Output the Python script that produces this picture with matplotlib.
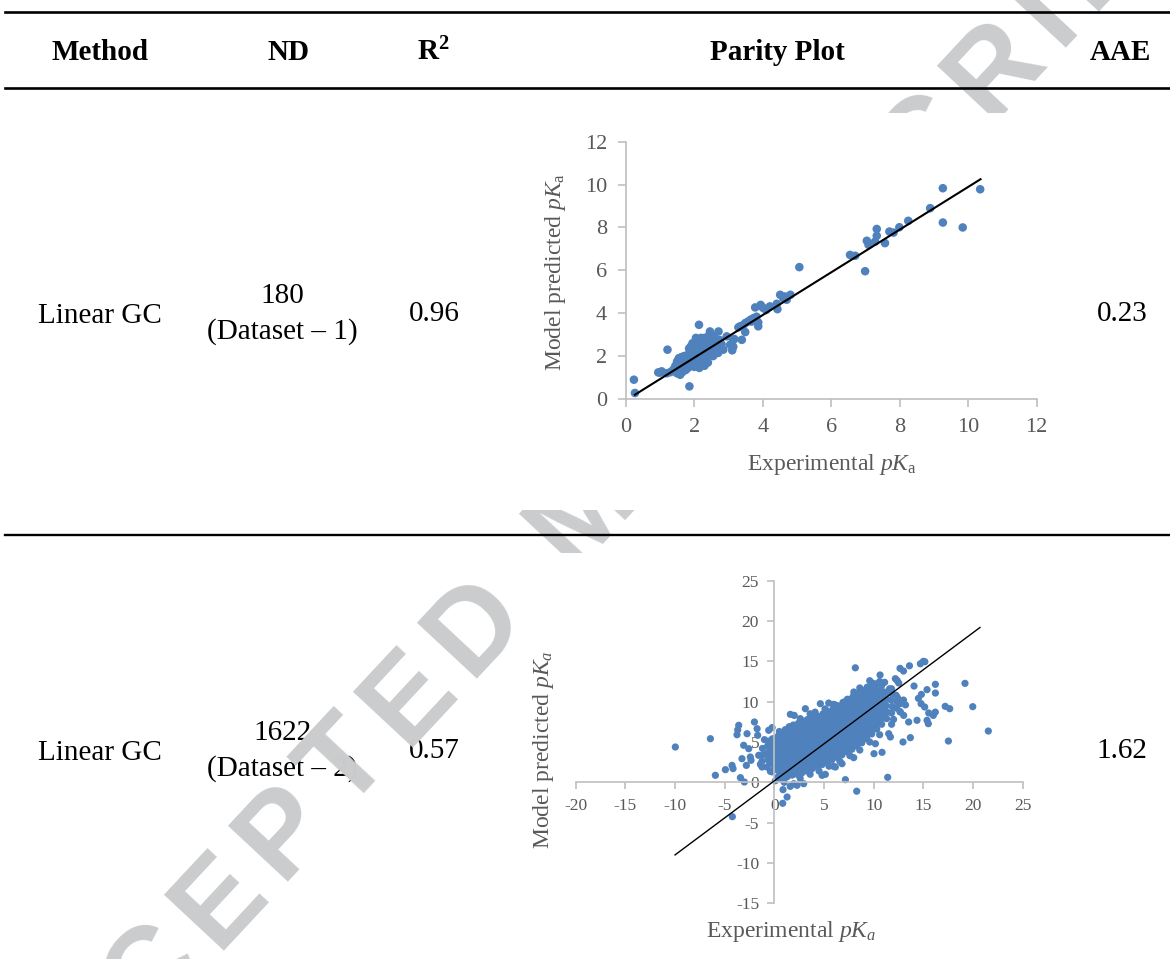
import numpy as np
import matplotlib
matplotlib.use("Agg")
import matplotlib.pyplot as plt
from matplotlib.patches import Rectangle
from matplotlib.lines import Line2D

plt.rcParams['font.family'] = ['Liberation Serif', 'DejaVu Serif']
plt.rcParams['mathtext.fontset'] = 'custom'
plt.rcParams['mathtext.rm'] = 'Liberation Serif'
plt.rcParams['mathtext.it'] = 'Liberation Serif:italic'
plt.rcParams['mathtext.bf'] = 'Liberation Serif:bold'
plt.rcParams['axes.unicode_minus'] = False

# ---- table contents ----
headers = ['Method', 'ND', r'$\mathbf{R^2}$', 'Parity Plot', 'AAE']
methods = ['Linear GC', 'Linear GC']
nd = ['180', '1622']
datasets = ['(Dataset \u2013 1)', '(Dataset \u2013 2)']
r2 = ['0.96', '0.57']
aae = ['0.23', '1.62']
watermark = 'ACCEPTED MANUSCRIPT'

# ---- parity plot 1 (dataset 1), (experimental, predicted) ----
pts1 = [
    (0.24, 0.90), (0.27, 0.28), (0.95, 1.24), (1.05, 1.29), (1.22, 2.30), (1.39, 1.37),
    (1.49, 1.29), (1.59, 1.13), (1.86, 0.59), (2.14, 3.46), (2.46, 3.15), (2.71, 3.15),
    (2.95, 2.92), (3.05, 2.53), (3.11, 2.27), (3.17, 2.80), (3.39, 2.76), (3.49, 3.12),
    (3.34, 3.39), (3.44, 3.46), (3.58, 3.62), (3.73, 3.77), (3.78, 4.27), (3.94, 4.39),
    (4.02, 4.24), (3.87, 3.57), (3.87, 3.39), (4.21, 4.32), (4.41, 4.44), (4.43, 4.19),
    (4.51, 4.86), (4.65, 4.78), (4.81, 4.86), (4.70, 4.63), (5.07, 6.15), (6.55, 6.72),
    (6.70, 6.68), (6.99, 5.96), (7.04, 7.38), (7.09, 7.19), (7.33, 7.93), (7.33, 7.61),
    (7.28, 7.34), (7.57, 7.27), (7.70, 7.81), (7.82, 7.76), (7.99, 8.01), (8.25, 8.31),
    (8.89, 8.90), (9.26, 9.83), (9.26, 8.23), (9.84, 8.00), (10.35, 9.78),
    (1.00, 1.23), (3.14, 2.75), (3.14, 2.44), (3.29, 3.34), (3.68, 3.61), (3.82, 3.84),
    (3.97, 4.31), (3.65, 3.70), (3.50, 3.55), (4.10, 4.15), (4.60, 4.70),
    (1.45, 1.55), (1.50, 1.75), (1.52, 1.40), (1.55, 1.90), (1.58, 1.65), (1.60, 1.50),
    (1.62, 1.95), (1.65, 1.80), (1.68, 1.60), (1.70, 2.00), (1.72, 1.75), (1.75, 1.90),
    (1.78, 1.55), (1.80, 2.05), (1.82, 1.45), (1.85, 1.70), (1.85, 2.35), (1.88, 1.90),
    (1.90, 2.20), (1.92, 1.60), (1.95, 2.40), (1.95, 1.80), (1.98, 2.10), (2.00, 2.50),
    (2.00, 1.50), (2.02, 2.30), (2.05, 1.95), (2.05, 2.60), (2.08, 2.15), (2.10, 1.70),
    (2.10, 2.45), (2.12, 2.00), (2.15, 2.65), (2.15, 1.45), (2.18, 2.30), (2.20, 1.85),
    (2.20, 2.55), (2.22, 2.10), (2.25, 2.70), (2.25, 1.60), (2.28, 2.40), (2.30, 2.00),
    (2.30, 2.85), (2.32, 2.20), (2.35, 1.75), (2.35, 2.55), (2.38, 2.30), (2.40, 2.90),
    (2.40, 2.05), (2.42, 2.65), (2.45, 2.40), (2.48, 2.20), (2.50, 2.75), (2.52, 2.50),
    (2.55, 2.30), (2.58, 2.60), (2.60, 2.85), (2.62, 2.40), (2.65, 2.20), (2.68, 2.70),
    (2.70, 2.50), (2.72, 2.25), (2.75, 2.75), (2.75, 2.40), (2.10, 2.75), (2.00, 2.20),
    (1.90, 2.45), (2.15, 2.40), (2.25, 2.25), (2.35, 2.45), (2.45, 2.60), (2.20, 1.65),
    (2.30, 1.55), (2.40, 1.70), (1.75, 1.35), (1.65, 1.25), (1.50, 1.20), (1.40, 1.30),
    (1.30, 1.25), (1.20, 1.20), (2.60, 2.10), (2.55, 2.00), (2.05, 2.85), (1.95, 2.60),
    (2.20, 2.85), (2.45, 3.00), (2.55, 2.95), (2.80, 2.55), (2.85, 2.30), (2.70, 2.15),
]
fit1_x = [0.27, 10.36]
fit1_y = [0.20, 10.25]

# ---- parity plot 2 (dataset 2): dense core ----
core2 = [
    (-1.25, 2.6), (-1.15, 3.4), (-1.2, 4.2),
    (-0.75, 1.9), (-0.65, 2.8), (-0.72, 3.6), (-0.68, 4.5), (-0.6, 5.1),
    (-0.25, 1.3), (-0.15, 2.2), (-0.22, 3.0), (-0.18, 3.8), (-0.12, 4.6), (-0.2, 5.4),
    (0.3, 0.6), (0.35, 1.5), (0.25, 2.4), (0.32, 3.2), (0.28, 4.0), (0.36, 4.9), (0.3, 5.6),
    (0.8, 0.3), (0.85, 1.1), (0.75, 1.9), (0.82, 2.8), (0.78, 3.6), (0.86, 4.4), (0.8, 5.2), (0.84, 6.0),
    (1.3, 0.7), (1.35, 1.5), (1.25, 2.3), (1.32, 3.1), (1.28, 3.9), (1.36, 4.7), (1.3, 5.5), (1.27, 6.3),
    (1.8, 0.9), (1.85, 1.7), (1.75, 2.5), (1.82, 3.3), (1.78, 4.1), (1.86, 4.9), (1.8, 5.7), (1.84, 6.5), (1.9, 7.1),
    (2.3, 1.0), (2.35, 1.8), (2.25, 2.6), (2.32, 3.4), (2.28, 4.2), (2.36, 5.0), (2.3, 5.8), (2.27, 6.6), (2.4, 7.3),
    (2.8, 1.2), (2.85, 2.0), (2.75, 2.8), (2.82, 3.6), (2.78, 4.4), (2.86, 5.2), (2.8, 6.0), (2.84, 6.8), (2.9, 7.6),
    (3.3, 1.4), (3.35, 2.2), (3.25, 3.0), (3.32, 3.8), (3.28, 4.6), (3.36, 5.4), (3.3, 6.2), (3.27, 7.0), (3.35, 7.8),
    (3.8, 1.7), (3.85, 2.5), (3.75, 3.3), (3.82, 4.1), (3.78, 4.9), (3.86, 5.7), (3.8, 6.5), (3.84, 7.3), (3.9, 8.1),
    (4.3, 1.9), (4.35, 2.7), (4.25, 3.5), (4.32, 4.3), (4.28, 5.1), (4.36, 5.9), (4.3, 6.7), (4.27, 7.5), (4.35, 8.2),
    (4.8, 2.2), (4.85, 3.0), (4.75, 3.8), (4.82, 4.6), (4.78, 5.4), (4.86, 6.2), (4.8, 7.0), (4.84, 7.8), (4.9, 8.5),
    (5.3, 2.5), (5.35, 3.3), (5.25, 4.1), (5.32, 4.9), (5.28, 5.7), (5.36, 6.5), (5.3, 7.3), (5.27, 8.1), (5.35, 8.8),
    (5.8, 2.8), (5.85, 3.6), (5.75, 4.4), (5.82, 5.2), (5.78, 6.0), (5.86, 6.8), (5.8, 7.6), (5.84, 8.4), (5.9, 9.1),
    (6.3, 3.1), (6.35, 3.9), (6.25, 4.7), (6.32, 5.5), (6.28, 6.3), (6.36, 7.1), (6.3, 7.9), (6.27, 8.7), (6.35, 9.5),
    (6.8, 3.4), (6.85, 4.2), (6.75, 5.0), (6.82, 5.8), (6.78, 6.6), (6.86, 7.4), (6.8, 8.2), (6.84, 9.0), (6.9, 9.9),
    (7.3, 3.8), (7.35, 4.6), (7.25, 5.4), (7.32, 6.2), (7.28, 7.0), (7.36, 7.8), (7.3, 8.6), (7.27, 9.4), (7.35, 10.3),
    (7.8, 4.1), (7.85, 4.9), (7.75, 5.7), (7.82, 6.5), (7.78, 7.3), (7.86, 8.1), (7.8, 8.9), (7.84, 9.7), (7.9, 10.6),
    (8.3, 4.5), (8.35, 5.3), (8.25, 6.1), (8.32, 6.9), (8.28, 7.7), (8.36, 8.5), (8.3, 9.3), (8.27, 10.1), (8.35, 11.0),
    (8.8, 4.9), (8.85, 5.7), (8.75, 6.5), (8.82, 7.3), (8.78, 8.1), (8.86, 8.9), (8.8, 9.7), (8.84, 10.5), (8.9, 11.4),
    (9.3, 5.4), (9.35, 6.2), (9.25, 7.0), (9.32, 7.8), (9.28, 8.6), (9.36, 9.4), (9.3, 10.2), (9.27, 11.0), (9.35, 11.8),
    (9.8, 6.0), (9.85, 6.8), (9.75, 7.6), (9.82, 8.4), (9.78, 9.2), (9.86, 10.0), (9.8, 10.8), (9.84, 11.6), (9.9, 12.3),
    (10.3, 6.6), (10.35, 7.4), (10.25, 8.2), (10.32, 9.0), (10.28, 9.8), (10.36, 10.6), (10.3, 11.4), (10.27, 12.2),
    (10.8, 7.2), (10.85, 8.0), (10.75, 8.8), (10.82, 9.6), (10.78, 10.4), (10.86, 11.2), (10.8, 12.0),
    (11.3, 7.9), (11.35, 8.7), (11.25, 9.5), (11.32, 10.3), (11.28, 11.1),
    (11.8, 8.6), (11.85, 9.4), (11.75, 10.2), (11.82, 11.0),
    (12.3, 9.2), (12.35, 10.0), (12.25, 10.8),
    (0.1, 0.2), (1.0, 0.0), (1.6, -0.5), (2.6, 0.5), (3.6, 1.0), (4.5, 1.4), (5.5, 2.0),
    (6.6, 2.6), (7.6, 3.3), (8.6, 4.0), (9.6, 5.0), (10.6, 5.9), (0.5, 6.3), (1.5, 6.9),
    (2.6, 7.9), (3.6, 8.5), (4.1, 8.7), (5.1, 9.1), (6.1, 9.6), (7.1, 10.0), (8.0, 11.2),
    (8.6, 11.7), (9.6, 12.6), (10.6, 12.5), (11.1, 12.4), (11.6, 11.6), (12.0, 7.8), (11.8, 7.2),
]
# more points inside the dense band, listed by experimental value
core2_fill = {
    -0.45: [2.3, 3.2, 4.0, 4.8],
    0.05: [1.7, 2.6, 3.4, 4.2, 5.0],
    0.55: [1.0, 1.9, 2.7, 3.5, 4.4, 5.2],
    1.05: [0.7, 1.5, 2.4, 3.2, 4.0, 4.8, 5.6],
    1.55: [1.1, 1.9, 2.7, 3.5, 4.3, 5.1, 5.9, 6.5],
    2.05: [1.3, 2.1, 2.9, 3.7, 4.5, 5.3, 6.1, 6.8],
    2.55: [1.5, 2.3, 3.1, 3.9, 4.7, 5.5, 6.3, 7.1],
    3.05: [1.7, 2.5, 3.3, 4.1, 4.9, 5.7, 6.5, 7.3],
    3.55: [1.9, 2.7, 3.5, 4.3, 5.1, 5.9, 6.7, 7.5],
    4.05: [2.2, 3.0, 3.8, 4.6, 5.4, 6.2, 7.0, 7.8],
    4.55: [2.5, 3.3, 4.1, 4.9, 5.7, 6.5, 7.3, 8.1],
    5.05: [2.7, 3.5, 4.3, 5.1, 5.9, 6.7, 7.5, 8.3],
    5.55: [3.0, 3.8, 4.6, 5.4, 6.2, 7.0, 7.8, 8.6],
    6.05: [3.3, 4.1, 4.9, 5.7, 6.5, 7.3, 8.1, 8.9],
    6.55: [3.6, 4.4, 5.2, 6.0, 6.8, 7.6, 8.4, 9.2],
    7.05: [4.0, 4.8, 5.6, 6.4, 7.2, 8.0, 8.8, 9.6],
    7.55: [4.3, 5.1, 5.9, 6.7, 7.5, 8.3, 9.1, 9.9],
    8.05: [4.7, 5.5, 6.3, 7.1, 7.9, 8.7, 9.5, 10.3],
    8.55: [5.1, 5.9, 6.7, 7.5, 8.3, 9.1, 9.9, 10.7],
    9.05: [5.6, 6.4, 7.2, 8.0, 8.8, 9.6, 10.4, 11.2],
    9.55: [6.1, 6.9, 7.7, 8.5, 9.3, 10.1, 10.9, 11.7],
    10.05: [6.7, 7.5, 8.3, 9.1, 9.9, 10.7, 11.5],
    10.55: [7.3, 8.1, 8.9, 9.7, 10.5, 11.3],
    11.05: [8.0, 8.8, 9.6, 10.4, 11.2],
}
# ---- parity plot 2: scattered points outside the core ----
out2 = [
    (-9.97, 4.38), (-6.44, 5.41), (-5.94, 0.87), (-4.93, 1.57), (-4.26, 2.10), (-4.16, 1.70),
    (-4.23, -4.26), (-3.59, 7.07), (-3.69, 6.50), (-3.76, 5.90), (-3.42, 0.58), (-3.02, 0.04),
    (-3.26, 2.93), (-2.82, 2.10), (-3.09, 4.59), (-2.58, 4.17), (-2.75, 6.03), (-2.42, 3.14),
    (-2.35, 2.73), (-2.01, 7.48), (-1.74, 6.65), (-1.68, 5.83), (-1.58, 3.35), (-1.41, 2.23),
    (-1.24, 1.90), (-1.00, 5.29), (-0.40, 1.36), (-0.57, 6.45), (-0.23, 6.78), (0.44, 5.83),
    (0.77, 5.20), (1.10, 6.53), (1.61, 8.43), (2.00, 8.30), (3.12, 9.13), (4.63, 9.75),
    (5.47, 9.83), (5.97, 9.67), (0.87, -0.91), (1.28, -1.82), (0.84, -2.60), (1.95, -0.17),
    (2.28, -0.37), (2.95, -0.17), (4.80, 0.87), (5.13, 0.99), (5.97, 1.98), (6.14, 1.90),
    (6.81, 2.31), (7.15, 0.33), (7.99, 3.06), (8.29, -1.10), (8.15, 14.20), (10.64, 13.31),
    (12.65, 14.13), (13.00, 13.80), (13.60, 14.45), (14.70, 14.70), (15.00, 15.00), (15.15, 14.95),
    (16.21, 12.15), (16.21, 11.07), (15.37, 11.49), (14.06, 11.94), (14.50, 10.41), (14.77, 9.75),
    (15.13, 9.34), (15.54, 8.60), (16.00, 8.30), (16.20, 8.70), (15.37, 7.69), (15.50, 7.27),
    (14.36, 7.69), (17.20, 9.42), (17.65, 9.13), (19.19, 12.27), (19.97, 9.38), (21.54, 6.36),
    (17.52, 5.12), (13.69, 5.54), (12.95, 5.00), (13.52, 7.48), (11.51, 6.03), (11.68, 5.62),
    (10.17, 4.79), (10.03, 3.55), (10.84, 3.72), (11.41, 0.62), (12.68, 9.75), (12.68, 8.72),
    (13.02, 8.30), (12.35, 12.64), (12.52, 12.31), (12.18, 12.85), (12.65, 8.76), (13.20, 9.60),
    (13.00, 10.20), (12.40, 10.50), (11.80, 11.60), (14.80, 10.90),
]
fit2_x = [-10.0, 20.7]
fit2_y = [-9.0, 19.2]

exp1, pred1 = zip(*pts1)
fill2 = [(x, y) for x, ys in core2_fill.items() for y in ys]
exp2, pred2 = zip(*(core2 + fill2 + out2))

W, H = 1170, 959
BLUE = '#4f81bd'
AXGREY = '#bfbfbf'
LABGREY = '#595959'
WMGREY = '#cbcccd'
FS = 21


def fx(px):
    return px / W


def fy(py):
    return 1 - py / H


fig = plt.figure(figsize=(W / 100, H / 100), dpi=100)

# table text
hx = [100, 289, 433, 777, 1120]
for x, h in zip(hx, headers):
    fig.text(fx(x), fy(52), h, ha='center', va='center', fontsize=FS,
             fontweight='bold', zorder=1)

row_y = [316, 753]
for i, ry in enumerate(row_y):
    fig.text(fx(100), fy(ry), methods[i], ha='center', va='center', fontsize=FS, zorder=1)
    fig.text(fx(282), fy(ry - 20), nd[i], ha='center', va='center', fontsize=FS, zorder=1)
    fig.text(fx(282), fy(ry + 16), datasets[i], ha='center', va='center', fontsize=FS, zorder=1)
    fig.text(fx(434), fy(ry - 2), r2[i], ha='center', va='center', fontsize=FS, zorder=1)
    fig.text(fx(1122), fy(ry - 2), aae[i], ha='center', va='center', fontsize=FS, zorder=1)

# watermark, letter by letter along a 47 degree line (spaced out like the original)
wm_size = 85
wm_em = wm_size * 100 / 72
wm_track = 15.8
wm_adv = {'A': .722, 'C': .722, 'E': .667, 'P': .667, 'T': .611, 'D': .722, ' ': .278,
          'M': .833, 'N': .722, 'U': .722, 'S': .667, 'R': .722, 'I': .278}
theta = np.radians(47)
centres = []
pos = 0.0
for ch in watermark:
    w = wm_adv[ch] * wm_em
    centres.append(pos + w / 2)
    pos += w + wm_track
ux, uy = np.cos(theta), -np.sin(theta)
bx, by = 0.358 * wm_em * np.sin(theta), 0.358 * wm_em * np.cos(theta)
for ch, c in zip(watermark, centres):
    if ch == ' ':
        continue
    d = c - centres[2]
    cx, cy = 145 + d * ux, 965 + d * uy
    fig.text(fx(cx + bx), fy(cy + by), ch, ha='center', va='baseline', rotation=47,
             rotation_mode='anchor', fontsize=wm_size, fontweight='bold',
             family='Liberation Sans', color=WMGREY, zorder=2)

# white backgrounds of the two embedded plots
for x0, y0, x1, y1 in [(520, 113, 1060, 510), (515, 553, 1060, 959)]:
    fig.add_artist(Rectangle((fx(x0), fy(y1)), fx(x1) - fx(x0), fy(y0) - fy(y1),
                             transform=fig.transFigure, facecolor='white',
                             edgecolor='none', zorder=3))

# table rules
for y, lw in [(12, 1.9), (88, 1.9), (535, 1.7)]:
    fig.add_artist(Line2D([fx(5), 1], [fy(y), fy(y)], transform=fig.transFigure,
                          color='black', lw=lw, zorder=5))


def style(ax, size):
    for s in ['top', 'right']:
        ax.spines[s].set_visible(False)
    for s in ['left', 'bottom']:
        ax.spines[s].set_color(AXGREY)
        ax.spines[s].set_linewidth(1.2)
    ax.tick_params(direction='out', length=5.5, width=1.2, color=AXGREY,
                   labelcolor=LABGREY, labelsize=size, pad=8)
    ax.patch.set_alpha(0)


# plot 1
ax1 = fig.add_axes([fx(625.7), fy(399), fx(1036.7) - fx(625.7), fy(141.7) - fy(399)], zorder=4)
ax1.scatter(exp1, pred1, s=38, color=BLUE, edgecolors='none', zorder=2)
ax1.plot(fit1_x, fit1_y, color='black', lw=1.5, zorder=3)
ax1.set_xlim(0, 12)
ax1.set_ylim(0, 12)
ax1.set_xticks(range(0, 13, 2))
ax1.set_yticks(range(0, 13, 2))
style(ax1, 16)
fig.text(fx(832), fy(465), r'Experimental $\mathit{pK}_{\mathrm{a}}$', ha='center', va='center',
         fontsize=17, color=LABGREY, zorder=6)
fig.text(fx(555), fy(272), r'Model predicted $\mathit{pK}_{\mathrm{a}}$', ha='center', va='center',
         rotation=90, fontsize=17, color=LABGREY, zorder=6)

# plot 2
ax2 = fig.add_axes([fx(575.7), fy(903.3), fx(1022.7) - fx(575.7), fy(580.7) - fy(903.3)], zorder=4)
ax2.scatter(exp2, pred2, s=27, color=BLUE, edgecolors='none', zorder=2)
ax2.plot(fit2_x, fit2_y, color='black', lw=1.0, zorder=3)
ax2.set_xlim(-20, 25)
ax2.set_ylim(-15, 25)
ax2.set_xticks(range(-20, 26, 5))
ax2.set_yticks(range(-15, 26, 5))
ax2.spines['left'].set_position('zero')
ax2.spines['bottom'].set_position('zero')
style(ax2, 12.5)
ax2.tick_params(length=5, pad=6)
fig.text(fx(791), fy(932), r'Experimental $\mathit{pK_a}$', ha='center', va='center',
         fontsize=17, color=LABGREY, zorder=6)
fig.text(fx(543), fy(750), r'Model predicted $\mathit{pK_a}$', ha='center', va='center',
         rotation=90, fontsize=17, color=LABGREY, zorder=6)

fig.savefig('out.png', dpi=100)
